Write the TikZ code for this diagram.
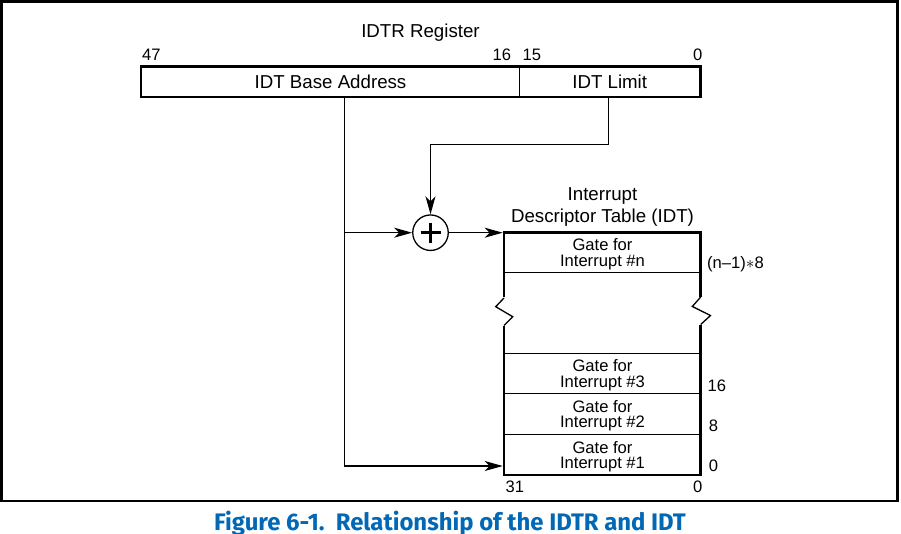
\documentclass[tikz,border=0pt]{standalone}
\usepackage{fontspec}
\setmainfont{Liberation Sans}
\newfontfamily\capfont{Fira Sans}
\usetikzlibrary{arrows.meta,calc}
\definecolor{capblue}{RGB}{0,104,181}
\begin{document}
\begin{tikzpicture}[x=1pt,y=-1pt,
  thinline/.style={line width=1.3pt},
  thickline/.style={line width=2.6pt},
  arr/.style={thinline,-{Stealth[length=18pt,width=10pt,inset=5pt]}},
  big/.style={font=\fontsize{18.7}{22}\selectfont,inner sep=0pt},
  small/.style={font=\fontsize{16.6}{15.7}\selectfont,inner sep=0pt},
  gate/.style={small,align=center},
  field/.style={inner sep=0pt,minimum height=30pt},
  lbl/.style={small,anchor=base west},
]
\useasboundingbox (0,0) rectangle (901,534);
% frame
\draw[line width=2.5pt] (1.5,1.5) rectangle (897.5,501);

% register
\node[big,anchor=base] (title) at (420.5,37.7) {IDTR Register};
\node[field,minimum width=379pt] (base) at (330.5,82) {};
\node[field,minimum width=180pt] (limit) at (610,82) {};
\node[big,anchor=base] (basetxt) at (330.5,88.3) {IDT Base Address};
\node[big,anchor=base] (limtxt) at (609.7,88.3) {IDT Limit};
\draw[thickline] (base.north west) rectangle (limit.south east);
\draw[thinline] (limit.north west) -- (limit.south west);
\node[lbl] (b47) at (142,61) {47};
\node[lbl] (b16) at (492.5,60.5) {16};
\node[lbl] (b15) at (522.5,60.5) {15};
\node[lbl] (b0) at (693,60.5) {0};

% adder
\node[draw,thinline,circle,minimum size=35.5pt,inner sep=0pt] (add) at (430.5,232.7) {};
\draw[line width=3pt] ($(add.center)+(-10,0)$) -- ($(add.center)+(10,0)$);
\draw[line width=3pt] ($(add.center)+(0,-10)$) -- ($(add.center)+(0,10)$);

% IDT
\node[big,align=center,anchor=base] (idttitle) at (602.5,222.7) {Interrupt\\Descriptor Table (IDT)};
\coordinate (tl) at (504,232.7);
\coordinate (tr) at (700.7,232.7);
\coordinate (bl) at (504,475);
\coordinate (br) at (700.7,475);
\draw[thickline] (504,296.8) -- (tl) -- (tr) -- (700.7,296.8);
\draw[thickline] (504,326.2) -- (bl) -- (br) -- (700.7,325.2);
\draw[thinline] (504,298) -- (495.7,306.7) -- (512.7,316.7) -- (504,325.5);
\draw[thinline] (700.7,297) -- (692.3,306.5) -- (710.5,315.5) -- (700.7,324.5);
\draw[thinline] (504,272.3) -- (700.7,272.3);
\draw[thinline] (504,353.3) -- (700.7,353.3);
\draw[thinline] (504,393.3) -- (700.7,393.3);
\draw[thinline] (504,434.3) -- (700.7,434.3);

\node[gate] (rown) at (602.5,254.5) {Gate for\\Interrupt \#n};
\node[gate] (row3) at (602.5,375.3) {Gate for\\Interrupt \#3};
\node[gate] (row2) at (602.5,415.8) {Gate for\\Interrupt \#2};
\node[gate] (row1) at (602.5,456.8) {Gate for\\Interrupt \#1};

\node[lbl] (offn) at (707,268.5) {(n–1)$\ast$8};
\node[lbl] (off16) at (707.5,391) {16};
\node[lbl] (off8) at (708.7,431.7) {8};
\node[lbl] (off0) at (708.7,471) {0};
\node[lbl] (b31) at (505.5,492.7) {31};
\node[lbl] (bb0) at (693,492.7) {0};

% connectors
\coordinate (bdown) at (344.7,98);
\coordinate (bturn) at (344.7,466);
\coordinate (entry1) at (502.7,466);
\coordinate (entryn) at (502.7,232.7);
\coordinate (bmid) at (344.7,232.7);
\coordinate (ldown) at (608.3,98);
\coordinate (lturn) at (608.3,144.3);
\coordinate (lturn2) at (430.5,144.3);
\draw[thinline] (bdown) -- (bmid);
\draw[arr] (bmid) -- (bturn) -- (entry1);
\draw[arr] (bmid) -- (add.west);
\draw[arr] (ldown) -- (lturn) -- (lturn2) -- (add.north);
\draw[arr] (add.east) -- (entryn);

% caption
\node[font=\capfont\bfseries\fontsize{23.9}{26}\selectfont,text=capblue,inner sep=0pt,anchor=base] (cap) at (450,530.5) {Figure 6-1.\ \ Relationship of the IDTR and IDT};
\end{tikzpicture}
\end{document}
